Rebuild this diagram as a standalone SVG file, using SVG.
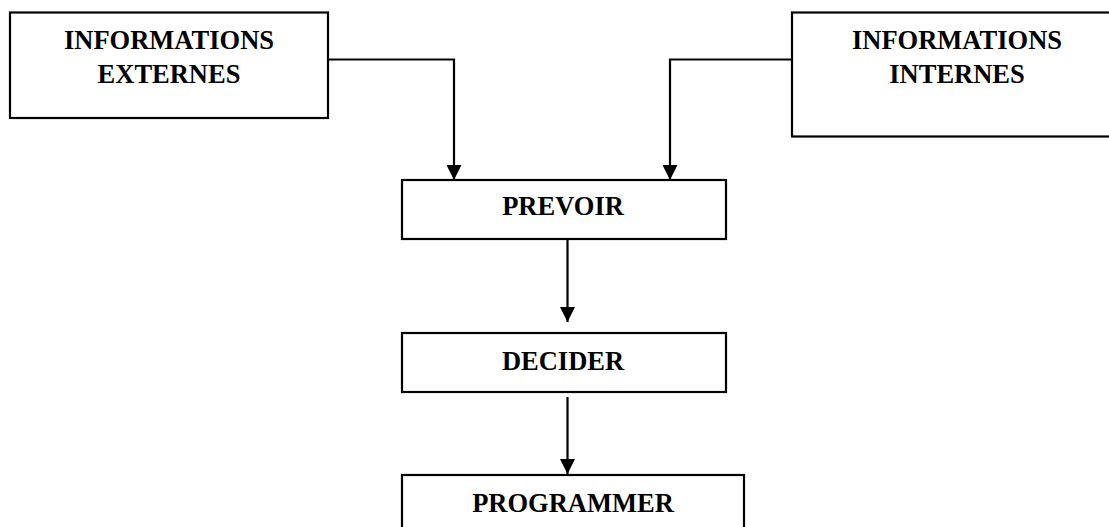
<svg xmlns="http://www.w3.org/2000/svg" width="1109" height="527" viewBox="0 0 1109 527">
  <style>
    .box { fill: #ffffff; stroke: #000000; stroke-width: 2.2; }
    .label { font-family: "Liberation Serif", "Times New Roman", serif; font-weight: bold; font-size: 26.5px; fill: #000000; text-anchor: middle; }
    .wire { fill: none; stroke: #000000; stroke-width: 2.2; }
  </style>
  <defs>
    <marker id="arrow" markerUnits="userSpaceOnUse" markerWidth="15" markerHeight="15" refX="15" refY="7.5" orient="auto">
      <path d="M0,0 L15,7.5 L0,15 Z" fill="#000000"/>
    </marker>
  </defs>
  <rect width="1109" height="527" fill="#ffffff"/>

  <g id="node-externes">
    <rect class="box" x="10" y="12.5" width="318" height="105.5"/>
    <text class="label" x="169" y="49">INFORMATIONS</text>
    <text class="label" x="169" y="83">EXTERNES</text>
  </g>

  <g id="node-internes">
    <rect class="box" x="792" y="12.5" width="330" height="124"/>
    <text class="label" x="957" y="49">INFORMATIONS</text>
    <text class="label" x="957" y="83">INTERNES</text>
  </g>

  <g id="node-prevoir">
    <rect class="box" x="402" y="180" width="324" height="59"/>
    <text class="label" x="563" y="215">PREVOIR</text>
  </g>

  <g id="node-decider">
    <rect class="box" x="402" y="333" width="324" height="59"/>
    <text class="label" x="563" y="370">DECIDER</text>
  </g>

  <g id="node-programmer">
    <rect class="box" x="402" y="475" width="342" height="70"/>
    <text class="label" x="573" y="512">PROGRAMMER</text>
  </g>

  <g id="connectors">
    <path class="wire" d="M328,59.5 H454 V180" marker-end="url(#arrow)"/>
    <path class="wire" d="M792,59.5 H670 V180" marker-end="url(#arrow)"/>
    <path class="wire" d="M567.5,239 V322" marker-end="url(#arrow)"/>
    <path class="wire" d="M567.5,397 V474" marker-end="url(#arrow)"/>
  </g>
</svg>
